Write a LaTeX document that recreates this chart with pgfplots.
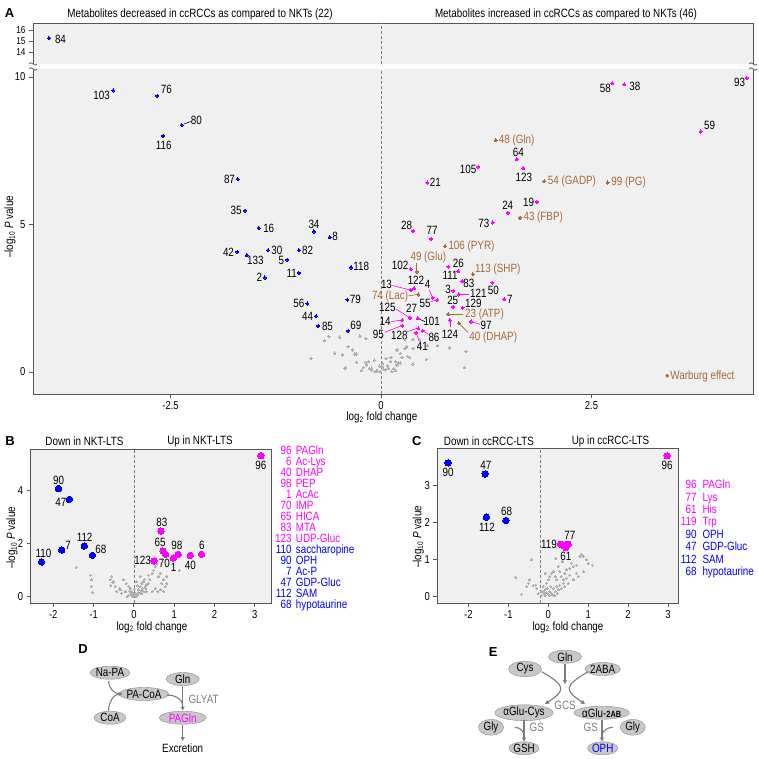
\documentclass[border=0pt]{standalone}
\usepackage{fontspec}
\setmainfont{Liberation Sans}[FakeStretch=0.82]
\newfontfamily\widefont{Liberation Sans}
\usepackage{pgfplots}
\pgfplotsset{compat=1.18}
\usetikzlibrary{calc,arrows.meta,shapes.geometric}
\definecolor{mag}{RGB}{255,0,255}
\definecolor{blu}{RGB}{0,0,255}
\definecolor{brn}{RGB}{166,106,55}
\definecolor{gpt}{RGB}{175,175,175}
\definecolor{bg}{RGB}{240,240,240}
\definecolor{frm}{RGB}{85,85,85}
\definecolor{arr}{RGB}{125,125,125}
\definecolor{ell}{RGB}{200,200,200}
\newcommand\fs[1]{\fontsize{#1}{#1}\selectfont}
% label at a point: [opts]{x}{y}{dx}{dy up}{text}
\newcommand\lab[6][]{\node[inner sep=0pt,font=\fs{12},xshift=#4pt,yshift=#5pt,#1] at (axis cs:#2,#3) {#6};}
% leader line from point+(a,b) to point+(c,d)
\newcommand\lead[7][black]{\draw[#1,line width=0.6pt] ($(axis cs:#2,#3)+(#4pt,#5pt)$) -- ($(axis cs:#2,#3)+(#6pt,#7pt)$);}
\pgfplotsset{
  vol/.style={scale only axis, axis background/.style={fill=bg},
    axis line style={frm,line width=0.8pt}, tick style={frm,line width=0.8pt},
    tick align=outside, tick pos=left, major tick length=4pt,
    tick label style={font=\fs{11.5}},
    /pgf/number format/assume math mode=true, clip=false},
  zero/.style={forget plot, no marks, arr, dash pattern=on 3pt off 2pt, line width=0.6pt},
  gp/.style={forget plot, only marks, mark=*, mark size=1.2pt, color=gpt, mark options={solid, fill=gpt, draw=gpt, line width=0pt}},
  sp/.style={forget plot, only marks, mark=*, mark size=1.6pt, color=#1, mark options={solid, fill=#1, draw=#1, line width=0pt}},
  bp/.style={forget plot, only marks, mark=*, mark size=3.2pt, color=#1, mark options={solid, fill=#1, draw=#1, line width=0pt}},
}
\tikzset{
  elp/.style={ellipse, fill=ell, draw=frm!70, line width=0.4pt, minimum height=13pt, inner sep=0pt, font=\fs{12}},
  ar/.style={arr, line width=1.1pt, -{Triangle[length=4pt,width=4pt]}},
  ln/.style={arr, line width=1.1pt},
  plab/.style={font=\widefont\bfseries\fs{13}},
}
\begin{document}
\begin{tikzpicture}[font=\fs{12}]
\path[use as bounding box] (0,0) rectangle (759pt,-758pt);

% ---------- A, upper part ----------
\begin{axis}[vol, at={(33pt,-64pt)}, anchor=south west, width=720pt, height=41pt,
  xmin=-4.133, xmax=4.418, ymin=12.95, ymax=16.63,
  xtick=\empty, ytick={14,15,16}, axis line style={draw=none},
  tick label style={font=\fs{10}}]
\draw[frm,line width=0.8pt] (rel axis cs:0,0) -- (rel axis cs:0,1) -- (rel axis cs:1,1) -- (rel axis cs:1,0);
\addplot[zero] coordinates {(0,12.95) (0,16.63)};
\addplot[sp=blu] coordinates {(-3.943,15.28)};
\lab{-3.943}{15.28}{11.5}{-1}{84}
\end{axis}

% ---------- A, lower part ----------
\begin{axis}[vol, at={(33pt,-394pt)}, anchor=south west, width=720pt, height=325pt,
  xmin=-4.133, xmax=4.418, ymin=-0.746, ymax=10.27,
  xtick={-2.5,0,2.5}, ytick={0,5,10}, axis line style={draw=none},
  legend style={draw=none, fill=none, at={(rel axis cs:0.878,0.056)}, anchor=west,
    font=\fs{12}, inner sep=0pt, nodes={inner sep=1.5pt}},
  legend cell align=left]
\draw[frm,line width=0.8pt] (rel axis cs:0,1) -- (rel axis cs:0,0) -- (rel axis cs:1,0) -- (rel axis cs:1,1);
\addplot[zero] coordinates {(0,-0.746) (0,10.27)};
\addplot[gp] coordinates {
(-0.83,0.46)(-0.67,1.06)(-0.62,1.20)(-0.49,1.18)(-0.55,0.64)(-0.46,0.58)(-0.42,0.14)(-0.39,0.86)
(-0.34,0.75)(-0.29,0.61)(-0.29,0.33)(-0.25,1.22)(-0.18,1.14)(-0.21,0.16)(-0.17,0.24)(-0.15,0.35)
(-0.11,0.13)(-0.07,0.01)(-0.04,0.03)(-0.43,0.12)(-0.31,0.61)(-0.18,0.32)(-0.14,0.12)(-0.11,0.07)
(-0.05,0.03)(-0.01,0.01)(0.01,0.18)(0.05,0.07)(0.08,0.21)(0.11,0.35)(0.13,0.01)(0.15,0.12)
(0.19,0.24)(0.21,0.32)(0.23,0.63)(0.19,0.75)(0.28,1.11)(0.30,0.86)(0.34,0.50)(0.38,1.11)
(0.38,0.27)(0.46,1.08)(0.54,0.43)(0.55,0.89)(0.67,0.89)(0.81,0.82)(0.99,0.15)(1.01,0.69)
(0.06,0.45)(0.12,0.50)(-0.08,0.40)(0.02,0.28)(0.09,0.12)(0.25,0.50)(0.17,0.05)(-0.23,0.05)
(0.285,0.80)(0.38,0.80)(0.32,0.52)(0.23,0.30)(0.17,0.35)(0.03,0.10)(-0.02,0.20)
};
\addplot[sp=blu] coordinates {
(-3.18,9.54)(-2.657,9.36)(-2.367,8.37)(-2.589,8.0)(-1.702,6.54)(-1.615,5.47)(-1.452,4.88)
(-0.796,4.76)(-0.609,4.57)(-1.707,4.07)(-1.595,3.96)(-1.342,4.13)(-0.974,4.13)(-1.113,3.80)
(-0.974,3.36)(-1.378,3.20)(-0.356,3.54)(-0.400,2.45)(-0.875,2.32)(-0.772,1.89)(-0.745,1.56)
(-0.388,1.39)
};
\addplot[sp=mag] coordinates {
(2.747,9.79)(2.889,9.75)(4.343,9.97)(3.797,8.15)(1.612,7.21)(1.156,6.95)(1.690,6.91)(0.550,6.42)
(1.849,5.77)(1.505,5.39)(1.327,5.07)(0.380,4.78)(0.594,4.51)(0.353,3.49)(0.799,3.57)(0.918,3.42)
(0.395,2.84)(0.356,2.78)(0.614,2.52)(0.669,2.44)(0.966,3.08)(1.322,3.03)(0.859,2.75)(0.926,2.63)
(1.464,2.47)(0.859,2.21)(0.970,2.18)(0.344,1.84)(0.436,1.82)(0.253,1.76)(0.253,1.57)(0.819,1.76)
(1.069,1.71)(0.443,1.48)(0.495,1.40)(0.416,1.33)
};
\addplot[only marks, mark=*, mark size=1.6pt, color=brn, mark options={solid, fill=brn, draw=brn, line width=0pt},
  legend image code/.code={\fill[brn] (0pt,0pt) circle (1.6pt);}] coordinates {
(1.362,7.86)(1.939,6.47)(2.692,6.42)(1.651,5.23)(0.760,4.26)(0.424,3.40)(1.092,3.31)(0.443,2.63)
(0.799,1.96)(0.926,1.65)
};
\addlegendentry{\textcolor{brn}{Warburg effect}}
% blue labels
\lab{-3.18}{9.54}{-11.6}{-5.3}{103}
\lab{-2.657}{9.36}{9}{6}{76}
\lab{-2.367}{8.37}{14.6}{5}{80}\lead{-2.367}{8.37}{2}{1}{9}{3.5}
\lab{-2.589}{8.0}{0.7}{-9}{116}
\lab{-1.702}{6.54}{-8.2}{0}{87}
\lab{-1.615}{5.47}{-8.8}{0}{35}
\lab{-1.452}{4.88}{10}{0}{16}
\lab{-0.796}{4.76}{0}{7.5}{34}
\lab{-0.609}{4.57}{5.5}{0.6}{8}
\lab{-1.707}{4.07}{-8.8}{0}{42}
\lab{-1.595}{3.96}{8.6}{-5.4}{133}
\lab{-1.342}{4.13}{8.8}{0}{30}
\lab{-0.974}{4.13}{8.7}{0}{82}
\lab{-1.113}{3.80}{-6}{-1}{5}
\lab{-0.974}{3.36}{-7.3}{-0.7}{11}
\lab{-1.378}{3.20}{-5.7}{0}{2}
\lab{-0.356}{3.54}{10.2}{1}{118}
\lab{-0.400}{2.45}{8}{0}{79}
\lab{-0.875}{2.32}{-8.5}{0}{56}
\lab{-0.772}{1.89}{-8.3}{0}{44}
\lab{-0.745}{1.56}{9.2}{0}{85}
\lab{-0.388}{1.39}{7.5}{5.3}{69}
% magenta labels
\lab{2.747}{9.79}{-7}{-5}{58}
\lab{2.889}{9.75}{10.7}{-2.4}{38}
\lab{4.343}{9.97}{-7.2}{-4.7}{93}
\lab{3.797}{8.15}{8.8}{5.7}{59}
\lab{1.612}{7.21}{1.6}{7}{64}
\lab{1.156}{6.95}{-10.3}{-2.3}{105}
\lab{1.690}{6.91}{0.5}{-9}{123}
\lab{0.550}{6.42}{8}{0}{21}
\lab{1.849}{5.77}{-8}{-1}{19}
\lab{1.505}{5.39}{0}{7.3}{24}
\lab{1.327}{5.07}{-8.9}{-1}{73}
\lab{0.380}{4.78}{-6.3}{6}{28}
\lab{0.594}{4.51}{1}{8.3}{77}
\lab{0.353}{3.49}{-10.7}{4}{102}
\lab{0.799}{3.57}{10}{3.4}{26}
\lab{0.918}{3.42}{-8.3}{-4.7}{111}
\lab{0.395}{2.84}{1.7}{7.6}{122}
\lab{0.356}{2.78}{-24.5}{5.5}{13}\lead[mag]{0.356}{2.78}{-18.5}{4.5}{-1}{0}
\lab{0.614}{2.52}{-5}{13.7}{4}\lead[mag]{0.614}{2.52}{-3.5}{8}{-0.5}{1}
\lab{0.669}{2.44}{-12.3}{-3.3}{55}\lead[mag]{0.669}{2.44}{-6.5}{-1.7}{-1}{0}
\lab{0.966}{3.08}{6.5}{-2.5}{83}
\lab{1.322}{3.03}{1}{-7.3}{50}
\lab{0.859}{2.75}{-5.3}{1}{3}
\lab{0.926}{2.63}{19.3}{0.8}{121}\lead[mag]{0.926}{2.63}{1}{0}{10}{0}
\lab{1.464}{2.47}{5.7}{0}{7}
\lab{0.859}{2.21}{-0.6}{6}{25}
\lab{0.970}{2.18}{10.6}{4.0}{129}
\lab{0.344}{1.84}{-22.7}{10}{125}\lead[mag]{0.344}{1.84}{-14}{8.7}{-1}{0.5}
\lab{0.436}{1.82}{-6}{10}{27}
\lab{0.436}{1.82}{14}{-3.4}{101}\lead{0.436}{1.82}{1}{-0.5}{7.3}{-3.4}
\lab{0.253}{1.76}{-17.3}{-1.7}{14}\lead[mag]{0.253}{1.76}{-11}{-1.5}{-1}{0}
\lab{0.253}{1.57}{-24}{-8.6}{95}\lead[mag]{0.253}{1.57}{-17.3}{-6.6}{-1}{0}
\lab{0.819}{1.76}{0}{-14}{124}\lead[mag]{0.819}{1.76}{0}{-7}{0}{-1}
\lab{1.069}{1.71}{15}{-3.8}{97}\lead[mag]{1.069}{1.71}{1}{-0.3}{9}{-2.8}
\lab{0.443}{1.48}{-19}{-7.4}{128}\lead[mag]{0.443}{1.48}{-11}{-3.4}{-1}{0}
\lab{0.495}{1.40}{11.3}{-7}{86}\lead[mag]{0.495}{1.40}{1}{-0.7}{5.6}{-3.6}
\lab{0.416}{1.33}{6.3}{-14}{41}\lead[mag]{0.416}{1.33}{0.5}{-1}{3.3}{-8.5}
% brown labels
\lab[anchor=west,text=brn]{1.362}{7.86}{3}{0}{48 (Gln)}
\lab[anchor=west,text=brn]{1.939}{6.47}{3.4}{0}{54 (GADP)}
\lab[anchor=west,text=brn]{2.692}{6.42}{3.6}{0}{99 (PG)}
\lab[anchor=west,text=brn]{1.651}{5.23}{3.3}{0}{43 (FBP)}
\lab[anchor=west,text=brn]{0.760}{4.26}{3.3}{0}{106 (PYR)}
\lab[text=brn]{0.424}{3.40}{11.6}{14.4}{49 (Glu)}\lead[brn]{0.424}{3.40}{0}{2}{0}{8.4}
\lab[anchor=west,text=brn]{1.092}{3.31}{2}{5.3}{113 (SHP)}
\lab[anchor=east,text=brn]{0.443}{2.63}{-10}{-2.2}{74 (Lac)}\lead[brn]{0.443}{2.63}{-1}{0}{-10}{-1.5}
\lab[anchor=west,text=brn]{0.799}{1.96}{16.7}{-0.6}{23 (ATP)}\lead[brn]{0.799}{1.96}{1}{0}{15}{0}
\lab[anchor=west,text=brn]{0.926}{1.65}{10.3}{-14.4}{40 (DHAP)}\lead[brn]{0.926}{1.65}{1}{-1}{9}{-9}
\end{axis}

% break marks
\foreach \bx in {33,753}{
  \foreach \by in {64,69}{
    \draw[frm,line width=0.7pt] (\bx pt-4pt,-\by pt) sin (\bx pt-2pt,-\by pt+1.3pt) cos (\bx pt,-\by pt) sin (\bx pt+2pt,-\by pt-1.3pt) cos (\bx pt+4pt,-\by pt);
  }
}
\node[plab] at (9.5pt,-13pt) {A};
\node at (200pt,-14pt) {Metabolites decreased in ccRCCs as compared to NKTs (22)};
\node at (566pt,-14pt) {Metabolites increased in ccRCCs as compared to NKTs (46)};
\node[rotate=90] at (10pt,-227pt) {\textendash log\textsubscript{10} \textit{P} value};
\node at (382pt,-417.5pt) {log\textsubscript{2} fold change};

% ---------- B ----------
\begin{axis}[vol, at={(30.7pt,-603.3pt)}, anchor=south west, width=241pt, height=154pt,
  xmin=-2.56, xmax=3.42, ymin=-0.25, ymax=5.53, xtick={-2,-1,0,1,2,3}, ytick={0,2,4}]
\addplot[zero] coordinates {(0,-0.25) (0,5.53)};
\addplot[gp, mark size=1pt] coordinates {
(-1.43,1.09)(-1.07,0.81)(-1.06,0.63)(-1.06,0.38)(-1.02,0.15)(-0.55,0.75)(-0.59,0.63)(-0.52,0.53)
(-0.57,0.41)(-0.46,0.38)(-0.42,0.19)(-0.34,0.25)(-0.26,0.63)(-0.19,0.50)(-0.13,0.38)(-0.09,0.31)
(-0.05,0.19)(-0.01,0.10)(0.03,0.13)(0.07,0.06)(0.12,0.25)(0.16,0.38)(0.20,0.50)(0.24,0.56)
(0.28,0.38)(0.32,0.44)(0.36,0.50)(0.40,0.63)(0.45,0.88)(0.49,1.00)(0.53,1.13)(0.57,1.25)
(0.61,0.75)(0.65,0.88)(0.69,0.50)(0.74,0.63)(0.78,0.38)(0.82,0.50)(0.31,0.19)(0.16,0.13)
(0.06,0.00)(-0.02,0.00)(-0.07,0.10)(-0.13,0.06)(-0.17,0.00)(-0.21,0.19)(-0.30,0.13)(-0.36,0.31)
(-0.50,0.56)(0.16,0.75)(0.07,0.56)(0.45,0.19)(0.53,0.31)(0.59,0.19)(0.65,0.25)(0.74,0.19)
(0.82,0.75)(1.13,0.98)(0.36,0.81)(0.26,0.65)(0.21,0.30)(0.09,0.40)(0.02,0.28)(0.00,0.05)
(0.05,0.02)(0.10,0.08)(-0.05,0.04)(0.12,0.15)(0.20,0.10)(0.25,0.20)(-0.10,0.20)(0.30,0.30)
(0.18,0.22)
};
\addplot[bp=blu] coordinates {(-1.87,4.06)(-1.60,3.65)(-2.29,1.30)(-1.79,1.75)(-1.23,1.90)(-1.03,1.55)};
\addplot[bp=mag] coordinates {(3.15,5.29)(0.67,2.46)(0.72,1.71)(0.79,1.59)(0.50,1.34)(0.98,1.45)(1.10,1.59)(1.40,1.55)(1.68,1.59)};
\lab{3.15}{5.29}{0}{-10}{96}
\lab{-1.87}{4.06}{0}{8.5}{90}
\lab{-1.60}{3.65}{-8.5}{-2.7}{47}
\lab{-2.29}{1.30}{2}{9}{110}
\lab{-1.79}{1.75}{6.5}{4.5}{7}
\lab{-1.23}{1.90}{0.3}{8.5}{112}
\lab{-1.03}{1.55}{8.5}{6}{68}
\lab{0.67}{2.46}{1}{8.5}{83}
\lab{0.72}{1.71}{-2.7}{8.8}{65}
\lab{0.79}{1.59}{-1.3}{-9.5}{70}
\lab{0.50}{1.34}{-11.5}{1}{123}
\lab{0.98}{1.45}{0.3}{-9.7}{1}
\lab{1.10}{1.59}{-1.3}{8.5}{98}
\lab{1.40}{1.55}{0}{-9.7}{40}
\lab{1.68}{1.59}{0.3}{8.8}{6}
\end{axis}
\node[plab] at (10pt,-441pt) {B};
\node at (84.5pt,-441.7pt) {Down in NKT-LTS};
\node at (200pt,-441.7pt) {Up in NKT-LTS};
\node[rotate=90] at (12pt,-538pt) {\textendash log\textsubscript{10} \textit{P} value};
\node at (152pt,-627pt) {log\textsubscript{2} fold change};
\foreach \n/\t/\c [count=\i from 0] in {96/PAGln/mag,6/Ac-Lys/mag,40/DHAP/mag,98/PEP/mag,1/AcAc/mag,70/IMP/mag,65/HICA/mag,83/MTA/mag,123/UDP-Gluc/mag,110/saccharopine/blu,90/OPH/blu,7/Ac-P/blu,47/GDP-Gluc/blu,112/SAM/blu,68/hypotaurine/blu}{
  \node[anchor=base east,inner sep=0pt,text=\c] at (291.7pt,{-(454.3+11*\i)*1pt}) {\n};
  \node[anchor=base west,inner sep=0pt,text=\c] at (295.7pt,{-(454.3+11*\i)*1pt}) {\t};
}

% ---------- C ----------
\begin{axis}[vol, at={(437.3pt,-603.3pt)}, anchor=south west, width=241pt, height=155pt,
  xmin=-2.78, xmax=3.26, ymin=-0.18, ymax=3.99, xtick={-2,-1,0,1,2,3}, ytick={0,1,2,3}]
\addplot[zero] coordinates {(-0.21,-0.18) (-0.21,3.99)};
\addplot[gp, mark size=1pt] coordinates {
(-0.42,0.99)(-0.81,0.52)(-0.67,0.06)(-0.54,0.27)(-0.50,0.36)(-0.46,0.45)(-0.38,0.29)(-0.31,0.31)
(-0.29,0.22)(-0.25,0.09)(-0.17,0.13)(-0.13,0.27)(-0.08,0.18)(-0.04,0.36)(0.00,0.45)(0.04,0.54)
(0.08,0.63)(0.13,0.67)(0.17,0.54)(0.21,0.45)(0.25,0.81)(0.29,0.67)(0.33,0.54)(0.38,0.45)
(0.42,0.63)(0.46,0.72)(0.54,0.76)(0.58,0.90)(0.63,0.81)(0.71,0.85)(0.79,1.08)(0.84,1.12)
(0.88,1.08)(0.96,0.99)(1.00,0.90)(1.10,0.85)(0.71,0.63)(0.63,0.45)(0.50,0.36)(0.42,0.27)
(0.33,0.22)(0.25,0.18)(0.17,0.13)(0.08,0.09)(0.00,0.07)(-0.08,0.04)(-0.17,0.04)(-0.13,0.13)
(-0.04,0.11)(0.04,0.13)(0.13,0.22)(0.21,0.27)(0.29,0.31)(0.38,0.36)(0.46,0.49)(0.54,0.58)
(0.19,1.03)(0.36,0.94)(0.75,0.54)(0.88,0.67)(-0.08,0.63)(-0.03,0.22)(0.06,0.27)(0.02,0.03)
(0.10,0.05)(0.15,0.02)(0.22,0.08)(-0.10,0.08)
};
\addplot[bp=blu] coordinates {(-2.51,3.60)(-1.58,3.30)(-1.55,2.14)(-1.06,2.05)};
\addplot[bp=mag] coordinates {(2.98,3.79)(0.31,1.41)(0.39,1.37)(0.50,1.41)(0.44,1.32)};
\lab{2.98}{3.79}{0}{-10}{96}
\lab{-2.51}{3.60}{0}{-10}{90}
\lab{-1.58}{3.30}{0.7}{8.5}{47}
\lab{-1.55}{2.14}{0.7}{-10.3}{112}
\lab{-1.06}{2.05}{0.7}{9.3}{68}
\lab{0.31}{1.41}{-11.7}{0}{119}
\lab{0.50}{1.41}{1.7}{8.5}{77}
\lab{0.44}{1.32}{0}{-8.8}{61}
\end{axis}
\node[plab] at (416.7pt,-441pt) {C};
\node at (489pt,-441.7pt) {Down in ccRCC-LTS};
\node at (610.5pt,-441.7pt) {Up in ccRCC-LTS};
\node[rotate=90] at (418.3pt,-537pt) {\textendash log\textsubscript{10} \textit{P} value};
\node at (568pt,-627pt) {log\textsubscript{2} fold change};
\foreach \n/\t/\c [count=\i from 0] in {96/PAGln/mag,77/Lys/mag,61/His/mag,119/Trp/mag,90/OPH/blu,47/GDP-Gluc/blu,112/SAM/blu,68/hypotaurine/blu}{
  \node[anchor=base east,inner sep=0pt,text=\c] at (696.7pt,{-(488.6+12.4*\i)*1pt}) {\n};
  \node[anchor=base west,inner sep=0pt,text=\c] at (702.3pt,{-(488.6+12.4*\i)*1pt}) {\t};
}

% ---------- D ----------
\node[plab] at (83pt,-649.3pt) {D};
\node[elp,minimum width=32pt] at (110pt,-672.7pt) {Na-PA};
\node[elp,minimum width=33pt] at (182.7pt,-679pt) {Gln};
\node[elp,minimum width=42pt] at (144pt,-694pt) {PA-CoA};
\node[elp,minimum width=32pt] at (110pt,-717.7pt) {CoA};
\node[elp,minimum width=47pt,text=mag] at (182.7pt,-717.7pt) {PAGln};
\node at (182.7pt,-748.3pt) {Excretion};
\node[text=arr,anchor=west] at (185pt,-699pt) {GLYAT};
\draw[ln] (108.5pt,-681pt) to[out=-90,in=180] (121pt,-694pt);
\draw[ar] (108.5pt,-711pt) to[out=90,in=180] (122.5pt,-694pt);
\draw[ar] (182.7pt,-686pt) -- (182.7pt,-710.5pt);
\draw[ln] (167pt,-695pt) to[out=0,in=90] (182.7pt,-706pt);
\draw[ar] (182.7pt,-725pt) -- (182.7pt,-741pt);

% ---------- E ----------
\node[plab] at (493.3pt,-651.7pt) {E};
\node[elp,minimum width=33pt] at (525pt,-669pt) {Cys};
\node[elp,minimum width=33pt] at (565pt,-656.7pt) {Gln};
\node[elp,minimum width=33pt] at (602.7pt,-669pt) {2ABA};
\node[elp,minimum width=47pt] at (524pt,-712.7pt) {αGlu-Cys};
\node[elp,minimum width=46pt] at (601.7pt,-712.7pt) {αGlu-{\bfseries\fs{9}2AB}};
\node[text=arr] at (565pt,-705pt) {GCS};
\node[elp,minimum width=25pt] at (491pt,-727.3pt) {Gly};
\node[text=arr] at (536.7pt,-727.3pt) {GS};
\node[elp,minimum width=30pt] at (524pt,-748.3pt) {GSH};
\node[text=arr] at (590.7pt,-727.3pt) {GS};
\node[elp,minimum width=25pt] at (632.7pt,-727.3pt) {Gly};
\node[elp,minimum width=30pt,text=blu] at (602.7pt,-748.3pt) {OPH};
\draw[ar] (565pt,-663.5pt) -- (565pt,-684pt);
\draw[ar] (541.7pt,-671.7pt) .. controls (566pt,-686pt) and (566pt,-690pt) .. (545pt,-704pt);
\draw[ar] (588pt,-671.7pt) .. controls (564pt,-686pt) and (564pt,-690pt) .. (585pt,-704pt);
\draw[ar] (524pt,-719.5pt) -- (524pt,-741.5pt);
\draw[ln] (515pt,-727.3pt) to[out=0,in=90] (524pt,-736pt);
\draw[ar] (602pt,-719.5pt) -- (602pt,-741.5pt);
\draw[ln] (613pt,-727.3pt) to[out=180,in=90] (602pt,-736pt);
\end{tikzpicture}
\end{document}
